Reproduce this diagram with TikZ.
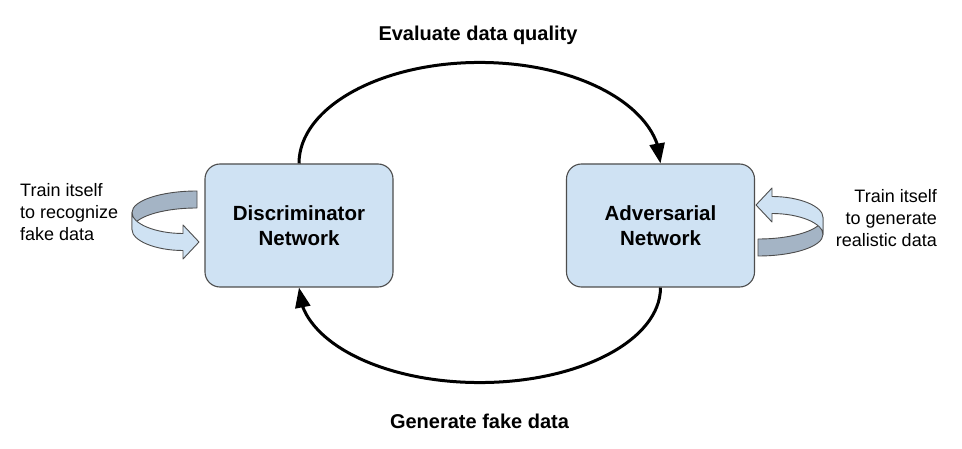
\documentclass[tikz,border=0pt]{standalone}
\usepackage{fontspec}
\setmainfont{Liberation Sans}
\usetikzlibrary{arrows.meta,bending}
\definecolor{boxfill}{HTML}{CFE2F3}
\definecolor{boxline}{HTML}{4D4D4D}
\definecolor{ribdark}{HTML}{A4B4C5}
\definecolor{riblight}{HTML}{CFE2F3}
\tikzset{
  box/.style={draw=boxline, line width=1.1pt, fill=boxfill, rounded corners=15pt,
    minimum width=188pt, minimum height=123pt, align=center, inner sep=0pt,
    font=\fontsize{20.5}{25}\selectfont\bfseries},
  conn/.style={line width=3pt, -{Triangle[length=20pt,width=15pt,flex]}},
  sidetext/.style={inner sep=0pt, font=\fontsize{18}{22}\selectfont},
  title/.style={inner sep=0pt, anchor=base, font=\fontsize{20}{24}\selectfont\bfseries},
  ribbon/.pic={
    \filldraw[fill=ribdark, draw=boxline, line width=0.9pt, line join=round]
      (0,-21.5) .. controls (-35.9,-21.5) and (-65,-11.9) .. (-65,0)
      -- (-65,17) .. controls (-65,5.1) and (-35.9,-4.5) .. (0,-4.5) -- cycle;
    \filldraw[fill=riblight, draw=boxline, line width=0.9pt, line join=round]
      (-65,0) .. controls (-65,11.5) and (-41,21) .. (-14,21)
      -- (-14,12.5) -- (2,29.5) -- (-14,46.5) -- (-14,38)
      .. controls (-41,38) and (-65,28.5) .. (-65,17) -- cycle;
  }
}
\begin{document}
\begin{tikzpicture}[x=1pt,y=-1pt]
\useasboundingbox (0,0) rectangle (962,449);
\fill[white] (0,0) rectangle (962,449);

\node[box] (d) at (299,225.5) {Discriminator\\Network};
\node[box] (a) at (660.5,225.5) {Adversarial\\Network};

\node[title] (t1) at (478,41) {Evaluate data quality};
\node[title] (t2) at (479.5,428) {Generate fake data};

\node[sidetext, anchor=north west, align=left] (l) at (20,183) {Train itself\\to recognize\\fake data};
\node[sidetext, anchor=north east, align=right] (r) at (937,189) {Train itself\\to generate\\realistic data};

\pic at (197,212.5) {ribbon};
\pic[rotate=180] at (758,234.5) {ribbon};

\draw[conn] (d.north) arc[start angle=180, end angle=0, x radius=180.75pt, y radius=101pt];
\draw[conn] (a.south) arc[start angle=0, end angle=-180, x radius=180.75pt, y radius=95pt];
\end{tikzpicture}
\end{document}
